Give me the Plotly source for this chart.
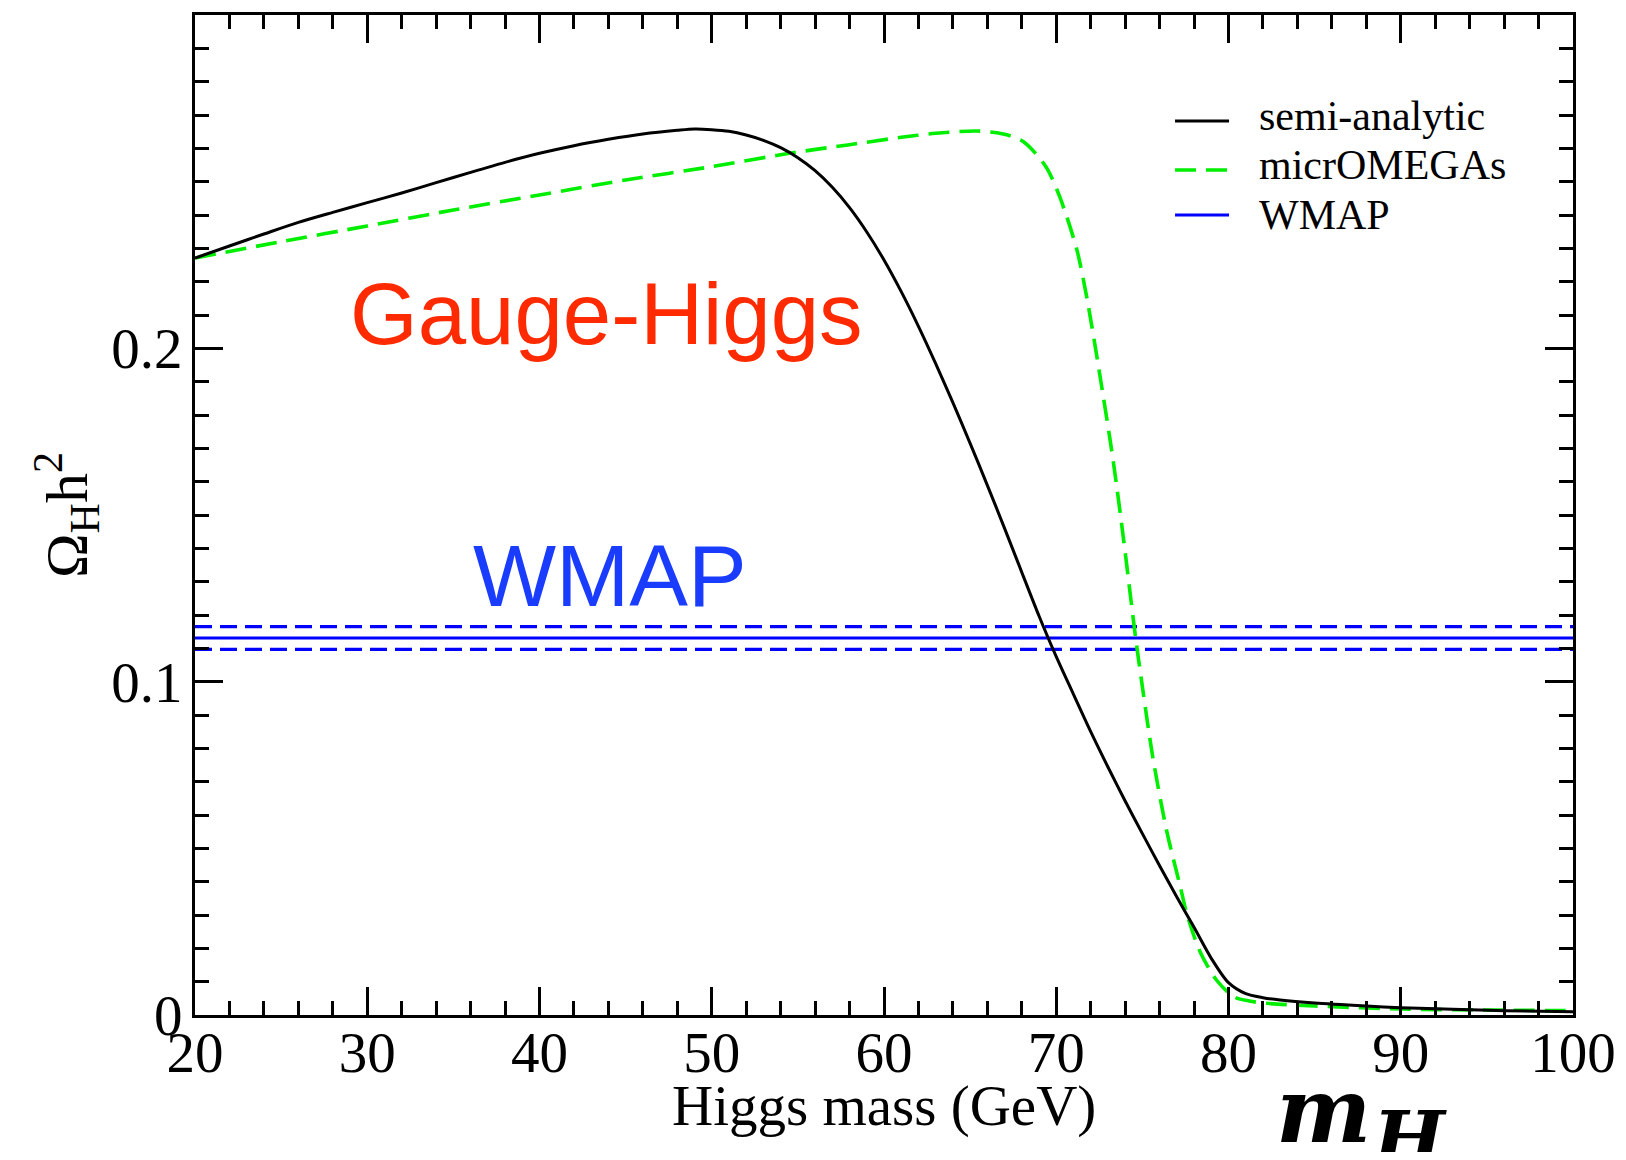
import plotly.graph_objects as go

# ---------------- data ----------------
mass_semi = [20, 22, 24, 26, 28, 30, 32, 34, 36, 38, 40, 42, 44, 46, 48, 49, 50, 51, 52,
             53, 54, 55, 56, 57, 58, 59, 60, 61, 62, 63, 64, 65, 66, 67, 68, 69, 70,
             71, 72, 73, 74, 75, 76, 77, 78, 79, 80, 81, 82, 83, 85, 88, 90, 93, 96, 100]
omega_semi = [0.2271, 0.2307, 0.2343, 0.2378, 0.2408, 0.2437, 0.2466, 0.2497, 0.2528,
              0.2558, 0.2585, 0.2608, 0.2627, 0.2643, 0.2654, 0.2658, 0.2656, 0.2651,
              0.2640, 0.2624, 0.2602, 0.2572, 0.2533, 0.2483, 0.2422, 0.2349, 0.2265,
              0.2170, 0.2066, 0.1954, 0.1837, 0.1715, 0.1589, 0.1460, 0.1328, 0.1197,
              0.1075, 0.0962, 0.0850, 0.0744, 0.0642, 0.0544, 0.0448, 0.0354, 0.0263,
              0.0170, 0.0097, 0.0064, 0.0052, 0.0045, 0.0036, 0.0027, 0.0022, 0.0017,
              0.0013, 0.0010]

mass_micro = [20, 25, 30, 35, 40, 45, 50, 54.5, 58, 61, 63, 65.4, 67, 68.1, 69.4, 70.2,
              71.2, 71.8, 72.5, 73.3, 73.9, 74.6, 75.0, 75.6, 76.4, 77.2, 77.6, 78.35,
              79.3, 80.3, 81.2, 82.2, 85, 90, 95, 100]
omega_micro = [0.2271, 0.2320, 0.2367, 0.2415, 0.2460, 0.2505, 0.2545, 0.2585, 0.2611,
               0.2633, 0.2645, 0.2652, 0.2642, 0.2620, 0.2545, 0.2455,
               0.2295, 0.2145, 0.1930, 0.1665, 0.1430, 0.1135, 0.0985, 0.0775, 0.0555,
               0.0385, 0.0300, 0.0190, 0.0105, 0.0055, 0.0042, 0.0035, 0.0027, 0.0018,
               0.0015, 0.0013]

wmap_central = 0.1131
wmap_low = 0.1097
wmap_high = 0.1165
wmap_span = [20, 100]

x_range = [20, 100]
y_range = [0, 0.3]
x_tick_vals = [20, 30, 40, 50, 60, 70, 80, 90, 100]
y_tick_vals = [0, 0.1, 0.2]
y_tick_text = ["0", "0.1", "0.2"]

legend_names = ["semi-analytic", "micrOMEGAs", "WMAP"]

# ---------------- styles ----------------
BLACK = "black"
GREEN = "#00ee00"
BLUE = "#0000ff"
serif = "Liberation Serif, Times New Roman, serif"
sans = "Liberation Sans, Arial, sans-serif"
green_dash = "21px,10px"
blue_dash = "17px,8px"

fig = go.Figure()

for val in (wmap_high, wmap_low):
    fig.add_trace(go.Scatter(x=wmap_span, y=[val, val], mode="lines",
                             line=dict(color=BLUE, width=3.3, dash=blue_dash),
                             showlegend=False, hoverinfo="skip"))

fig.add_trace(go.Scatter(x=wmap_span, y=[wmap_central, wmap_central], mode="lines",
                         name=legend_names[2], showlegend=False,
                         line=dict(color=BLUE, width=3)))

fig.add_trace(go.Scatter(x=mass_micro, y=omega_micro, mode="lines", name=legend_names[1],
                         showlegend=False,
                         line=dict(color=GREEN, width=3.6, dash=green_dash,
                                   shape="spline", smoothing=0.8)))

fig.add_trace(go.Scatter(x=mass_semi, y=omega_semi, mode="lines", name=legend_names[0],
                         showlegend=False,
                         line=dict(color=BLACK, width=3, shape="spline", smoothing=0.8)))

axis_common = dict(
    showgrid=False, zeroline=False, showline=True, linecolor="black", linewidth=3,
    mirror="allticks", ticks="inside", ticklen=28, tickwidth=2.7, tickcolor="black",
    tickfont=dict(family=serif, size=57, color="black"),
)

fig.update_xaxes(range=x_range, tickvals=x_tick_vals, ticklabelstandoff=-14,
                 minor=dict(ticks="inside", ticklen=14, tickwidth=2.7, tickcolor="black",
                            dtick=2, tick0=20, showgrid=False),
                 **axis_common)
fig.update_yaxes(range=y_range, tickvals=y_tick_vals, ticktext=y_tick_text,
                 ticklabelstandoff=-2,
                 minor=dict(ticks="inside", ticklen=14, tickwidth=2.7, tickcolor="black",
                            dtick=0.01, tick0=0, showgrid=False),
                 title=dict(text="Ω<sub>H</sub>h<sup>2</sup>",
                            font=dict(family=serif, size=60, color="black"), standoff=5),
                 **axis_common)

# x-axis title (as annotation for exact placement)
fig.add_annotation(x=0.5, y=-0.091, xref="paper", yref="paper", text="Higgs mass (GeV)",
                   showarrow=False, xanchor="center", yanchor="middle",
                   font=dict(family=serif, size=57, color="black"))

# in-plot labels
fig.add_annotation(x=43.9, y=0.2105, xref="x", yref="y", text="Gauge-Higgs", showarrow=False,
                   font=dict(family=sans, size=87, color="#ff2a00"))
fig.add_annotation(x=44.1, y=0.132, xref="x", yref="y", text="WMAP", showarrow=False,
                   font=dict(family=sans, size=88, color="#1a3cff"))

# m_H label below the axis
fig.add_annotation(x=85.5, y=-0.095, xref="x", yref="paper", text="<b><i>m</i></b>",
                   showarrow=False, xanchor="center", yanchor="middle",
                   font=dict(family="DejaVu Serif, serif", size=90, color="black"))
fig.add_annotation(x=90.45, y=-0.124, xref="x", yref="paper", text="<b><i>H</i></b>",
                   showarrow=False, xanchor="center", yanchor="middle",
                   font=dict(family="DejaVu Serif, serif", size=76, color="black"))

# legend (drawn manually to match the reference spacing)
legend_line_x = (0.7112, 0.7504)
legend_line_y = [0.894, 0.845, 0.800]
legend_text_y = [0.899, 0.850, 0.800]
legend_styles = [dict(color=BLACK, width=3), dict(color=GREEN, width=3.6, dash=green_dash),
                 dict(color=BLUE, width=3)]
for name, ly, ty, st in zip(legend_names, legend_line_y, legend_text_y, legend_styles):
    fig.add_shape(type="line", xref="paper", yref="paper", x0=legend_line_x[0], x1=legend_line_x[1],
                  y0=ly, y1=ly, line=st)
    fig.add_annotation(x=0.7705, y=ty, xref="paper", yref="paper", text=name, showarrow=False,
                       xanchor="left", yanchor="middle",
                       font=dict(family=serif, size=42, color="black"))

# page body has an 8px margin: figure occupies (8,8)-(1618,1152)
fig.update_layout(
    width=1610, height=1144,
    margin=dict(l=187, r=45, t=7, b=137, autoexpand=False),
    paper_bgcolor="white", plot_bgcolor="white",
    showlegend=False,
)

fig.write_html("out.html")
